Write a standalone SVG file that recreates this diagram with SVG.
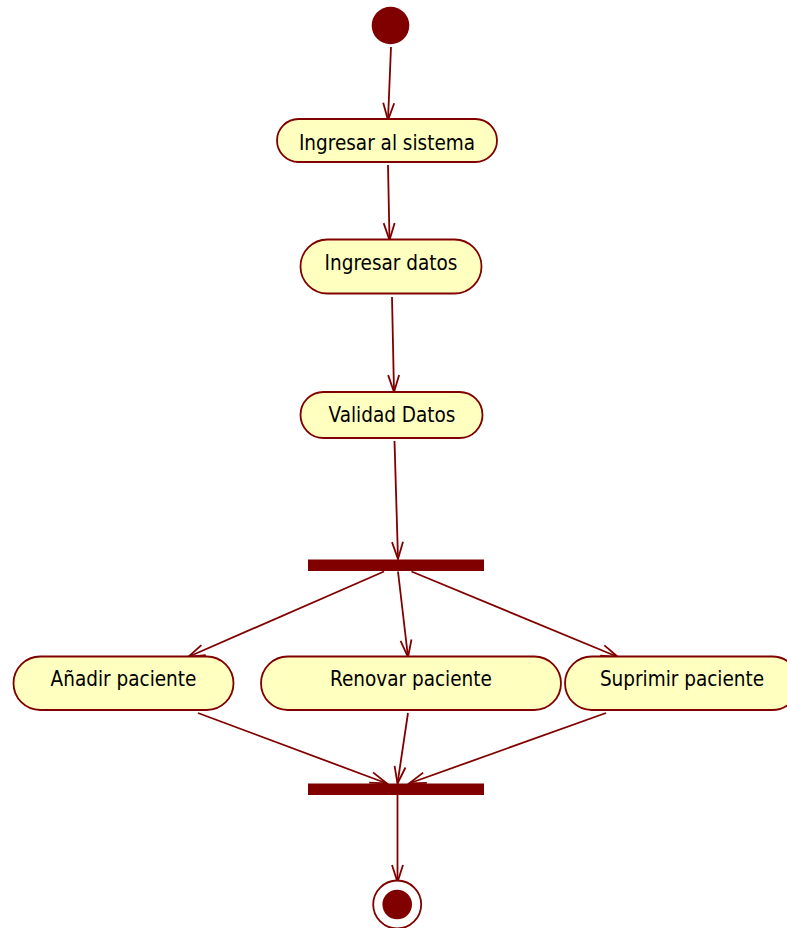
<svg xmlns="http://www.w3.org/2000/svg" width="787" height="928" viewBox="0 0 787 928">
<style>
.node{fill:#FFFFC0;stroke:#800000;stroke-width:1.8}
.lbl{font-family:"DejaVu Sans Condensed","DejaVu Sans",sans-serif;font-stretch:condensed;font-size:20.5px;fill:#000;text-anchor:middle}
.edge{stroke:#800000;stroke-width:1.8;fill:none;marker-end:url(#arr)}
.bar{fill:#800000}
</style>
<defs>
<marker id="arr" markerUnits="userSpaceOnUse" viewBox="-19 -7 21 14" refX="0" refY="0" markerWidth="21" markerHeight="14" orient="auto" overflow="visible">
<path d="M-17,-5.5 L0,0 L-17,5.5" fill="none" stroke="#800000" stroke-width="1.8"/>
</marker>
</defs>
<rect width="787" height="928" fill="#fff"/>
<g id="connectors">
<line class="edge" x1="391" y1="47" x2="388" y2="120"/>
<line class="edge" x1="388" y1="165" x2="389.5" y2="240"/>
<line class="edge" x1="392" y1="297" x2="394" y2="392"/>
<line class="edge" x1="394.5" y1="441" x2="398" y2="559"/>
<line class="edge" x1="384" y1="571.5" x2="188" y2="657"/>
<line class="edge" x1="398" y1="571.5" x2="408" y2="657"/>
<line class="edge" x1="411.5" y1="571.5" x2="618" y2="657"/>
<line class="edge" x1="198" y1="713" x2="387" y2="783.5"/>
<line class="edge" x1="408" y1="713" x2="397.5" y2="783.5"/>
<line class="edge" x1="606" y1="713" x2="409" y2="783.5"/>
<line class="edge" x1="397.5" y1="795" x2="397.5" y2="882"/>
</g>
<g id="start"><circle cx="390.5" cy="25.5" r="18.8" fill="#800000"/></g>
<g id="n1"><rect class="node" x="277" y="119" width="220" height="43" rx="21.5"/><text class="lbl" x="387" y="150">Ingresar al sistema</text></g>
<g id="n2"><rect class="node" x="300.5" y="239.5" width="181" height="54" rx="27"/><text class="lbl" x="391" y="270">Ingresar datos</text></g>
<g id="n3"><rect class="node" x="300.5" y="392" width="182" height="46" rx="23"/><text class="lbl" x="392" y="422">Validad Datos</text></g>
<g id="fork"><rect class="bar" x="308" y="559.5" width="176" height="11.5"/></g>
<g id="n4"><rect class="node" x="13.5" y="656.5" width="220" height="53.5" rx="26.75"/><text class="lbl" x="123.5" y="686">Añadir paciente</text></g>
<g id="n5"><rect class="node" x="261" y="656.5" width="300" height="53.5" rx="26.75"/><text class="lbl" x="411" y="686">Renovar paciente</text></g>
<g id="n6"><rect class="node" x="565" y="656.5" width="234" height="53.5" rx="26.75"/><text class="lbl" x="682" y="686">Suprimir paciente</text></g>
<g id="join"><rect class="bar" x="308" y="783.5" width="176" height="11.5"/></g>
<g id="end"><circle cx="397.2" cy="904.5" r="24" fill="#fff" stroke="#800000" stroke-width="1.8"/><circle cx="397.2" cy="904.5" r="14.8" fill="#800000"/></g>
</svg>
